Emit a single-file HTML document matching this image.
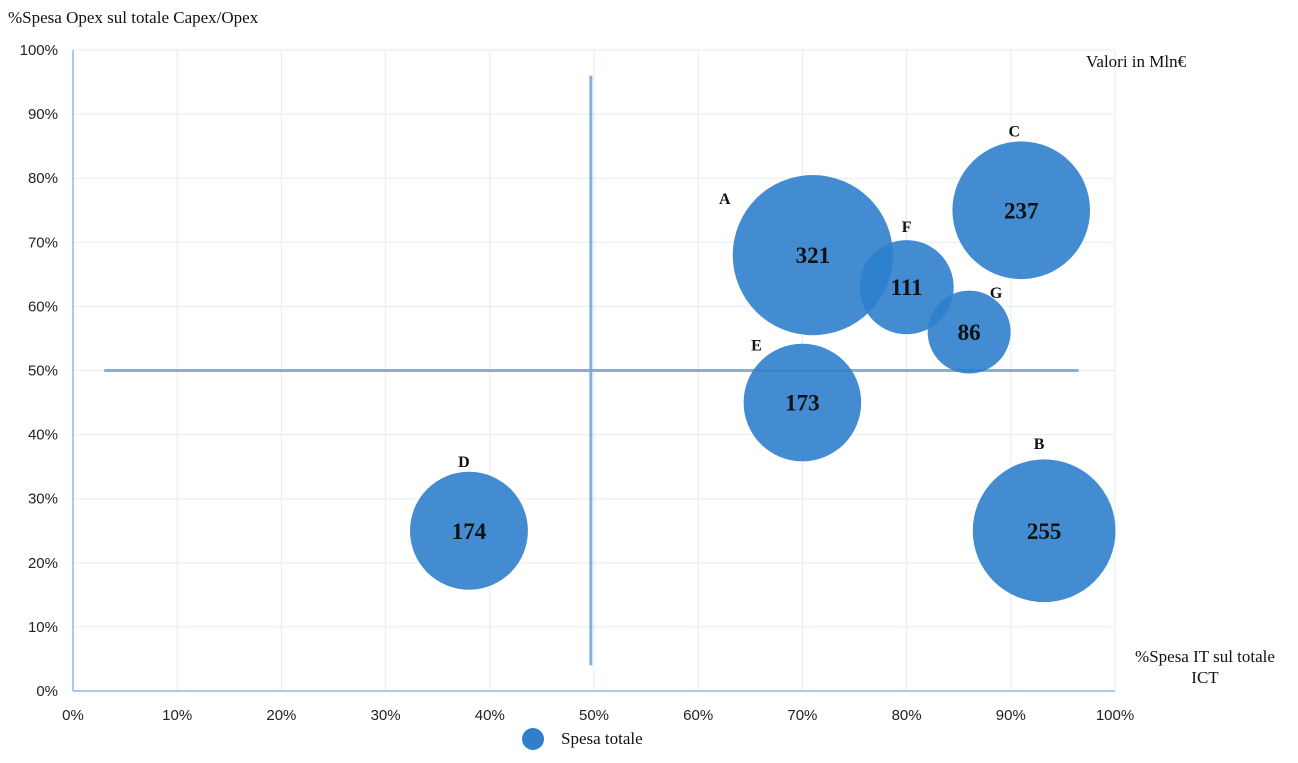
<!DOCTYPE html>
<html><head><meta charset="utf-8"><style>
body{margin:0;background:#fff;}
svg{display:block;}
.tick{font-family:"Liberation Sans",sans-serif;font-size:15px;fill:#222;}
.serif{font-family:"Liberation Serif",serif;fill:#111;}
</style></head><body>
<svg id="chart" width="1298" height="763"></svg>
<script>
const names=["A","B","C","D","E","F","G"];
const xVals=[71,93.2,91,38,70,80,86];
const yVals=[68,25,75,25,45,63,56];
const sizes=[321,255,237,174,173,111,86];
const ticks=[0,10,20,30,40,50,60,70,80,90,100];
const labelOffsets={A:[-88,-56],B:[-5,-87],C:[-7,-79],D:[-5,-69],E:[-46,-57],F:[0,-60],G:[27,-39]};
const NS="http://www.w3.org/2000/svg";
const svg=document.getElementById('chart');
const X=v=>73+v*10.42, Y=v=>691-v*6.41, R=s=>Math.sqrt(s)*4.47;
function el(t,a,txt){const e=document.createElementNS(NS,t);for(const k in a)e.setAttribute(k,a[k]);if(txt!==undefined)e.textContent=txt;svg.appendChild(e);return e;}
ticks.forEach(t=>{
 if(t>0){const g=el('line',{x1:X(t),x2:X(t),y1:Y(0),y2:Y(100),stroke:'#e3ecf6','stroke-width':1});
 
 
 const h=el('line',{x1:X(0),x2:X(100),y1:Y(t),y2:Y(t),stroke:'#e3ecf6','stroke-width':1});
 
 }
 const xl=el('text',{x:X(t),y:720,'text-anchor':'middle',class:'tick'},t+'%');
 
 
 const yl=el('text',{x:58,y:Y(t)+5,'text-anchor':'end',class:'tick'},t+'%');
 
 
});
const ax=el('line',{x1:X(0),x2:X(100),y1:Y(0),y2:Y(0),stroke:'#8db8e3','stroke-width':1.5});


const ay=el('line',{x1:X(0),x2:X(0),y1:Y(0),y2:Y(100),stroke:'#8db8e3','stroke-width':1.5});


const hl=el('line',{x1:X(3),x2:X(96.5),y1:Y(50),y2:Y(50),stroke:'#6fa3d8','stroke-width':3,opacity:0.85});


const vl=el('line',{x1:X(49.7),x2:X(49.7),y1:Y(4),y2:Y(96),stroke:'#6fa3d8','stroke-width':3,opacity:0.85});


names.forEach((n,i)=>{
 const cx=X(xVals[i]),cy=Y(yVals[i]);
 const c=el('circle',{cx:cx,cy:cy,r:R(sizes[i]),fill:'#2f7fcc','fill-opacity':0.9});
 
 
 const v=el('text',{x:cx,y:cy+8,'text-anchor':'middle',class:'serif','font-size':23,'font-weight':'bold'},sizes[i]);
 
 
 const o=labelOffsets[n];
 const l=el('text',{x:cx+o[0],y:cy+o[1]+5,'text-anchor':'middle',class:'serif','font-size':16,'font-weight':'bold'},n);
 
 
});
</script>
<div style="position:absolute;left:0;top:0;width:1298px;height:763px;pointer-events:none;font-family:'Liberation Serif',serif;color:#111;font-size:17px;">
 <div style="position:absolute;left:8px;top:8px;">%Spesa Opex sul totale Capex/Opex</div>
 <div style="position:absolute;left:1086px;top:52px;">Valori in Mln€</div>
 <div style="position:absolute;left:1110px;top:646px;width:190px;text-align:center;line-height:21px;">%Spesa IT sul totale<br>ICT</div>
 <div style="position:absolute;left:522px;top:728px;display:flex;align-items:center;">
  <span style="width:22px;height:22px;border-radius:50%;background:#2f7fcc;display:inline-block;margin-right:17px;"></span>
  <span>Spesa totale</span>
 </div>
</div>
</body></html>
